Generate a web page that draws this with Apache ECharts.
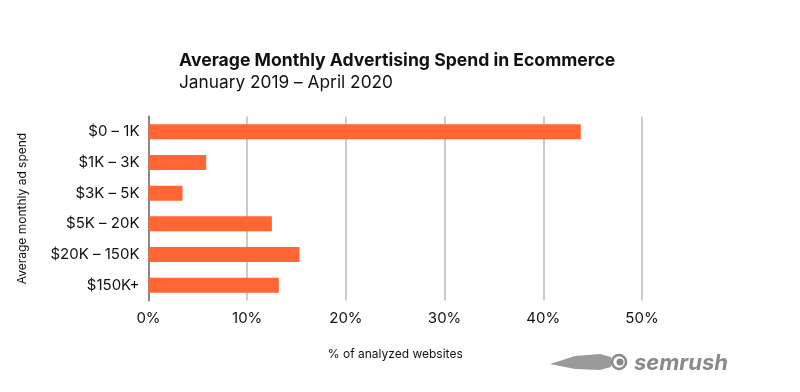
<!DOCTYPE html>
<html><head><meta charset="utf-8">
<script src="https://cdn.jsdelivr.net/npm/echarts@6/dist/echarts.min.js"></script>
<style>html,body{margin:0;padding:0;background:#fff}#c{width:800px;height:392px}</style>
</head><body><div id="c"></div>
<script>
const categories = ['$0 – 1K', '$1K – 3K', '$3K – 5K', '$5K – 20K', '$20K – 150K', '$150K+'];
const values = [43.8, 5.85, 3.45, 12.5, 15.3, 13.2];
const xTicks = [0, 10, 20, 30, 40, 50];
const titleText = 'Average Monthly Advertising Spend in Ecommerce';
const subtitleText = 'January 2019 – April 2020';
const font = 'Inter, "Noto Sans", sans-serif';

const chart = echarts.init(document.getElementById('c'));
chart.setOption({
  animation: false,
  backgroundColor: '#fff',
  title: {
    text: titleText, subtext: subtitleText, left: 174, top: 47, itemGap: 4,
    textStyle: {fontFamily: font, fontSize: 17.6, fontWeight: 'bold', color: '#111'},
    subtextStyle: {fontFamily: font, fontSize: 17.3, color: '#111'}
  },
  grid: {left: 148.5, right: 800 - 642, top: 116.5, height: 184},
  xAxis: {
    type: 'value', min: xTicks[0], max: xTicks[xTicks.length - 1], interval: 10,
    axisLabel: {formatter: v => v + '%', fontFamily: font, fontSize: 15, color: '#111', margin: 10},
    axisLine: {show: false}, axisTick: {show: false},
    splitLine: {show: true, lineStyle: {color: '#bbb', width: 1.5}},
    name: '% of analyzed websites', nameLocation: 'middle', nameGap: 48,
    nameTextStyle: {fontFamily: font, fontSize: 12, color: '#111'}
  },
  yAxis: {
    type: 'category', data: categories, inverse: true,
    axisLabel: {fontFamily: font, fontSize: 15, color: '#111', margin: 9},
    axisLine: {show: true, lineStyle: {color: '#888', width: 2}}, axisTick: {show: false},
    name: 'Average monthly ad spend', nameLocation: 'middle', nameGap: 120, nameRotate: 90,
    nameTextStyle: {fontFamily: font, fontSize: 12, color: '#111'}
  },
  series: [{
    type: 'bar', data: values, barWidth: 15,
    itemStyle: {color: '#FF6633'}
  }],
  graphic: [
    {type: 'circle', shape: {cx: 619, cy: 362, r: 7}, style: {fill: 'none', stroke: '#8a8a8a', lineWidth: 2.5}},
    {type: 'circle', shape: {cx: 620, cy: 362, r: 3.5}, style: {fill: '#8a8a8a'}},
    {type: 'polygon', shape: {points: [[550, 364], [575, 356], [600, 354], [611, 357], [611, 367], [600, 370], [575, 369]]}, style: {fill: '#9a9a9a'}},
    {type: 'text', left: 634, top: 352, style: {text: 'semrush', font: 'italic bold 22px ' + font, fill: '#8a8a8a'}}
  ]
});
</script></body></html>
